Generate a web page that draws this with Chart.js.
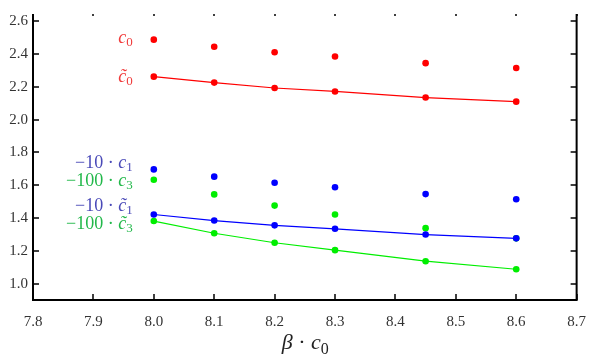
<!DOCTYPE html>
<html>
<head>
<meta charset="utf-8">
<script src="https://cdn.jsdelivr.net/npm/chart.js@4/dist/chart.umd.min.js"></script>
<style>
html,body{margin:0;padding:0;background:#fff;}
#wrap{width:599px;height:357px;position:relative;}
</style>
</head>
<body>
<div id="wrap"><canvas id="c" width="599" height="357"></canvas></div>
<script>
const xValues = [8.0, 8.1, 8.2, 8.3, 8.45, 8.6];
const c0 = [2.486, 2.443, 2.409, 2.384, 2.343, 2.314];
const c0Tilde = [2.261, 2.225, 2.192, 2.171, 2.134, 2.109];
const c1 = [1.697, 1.653, 1.616, 1.589, 1.547, 1.516];
const c1Tilde = [1.423, 1.386, 1.357, 1.336, 1.301, 1.278];
const c3 = [1.634, 1.545, 1.477, 1.423, 1.340, 1.278];
const c3Tilde = [1.383, 1.309, 1.251, 1.206, 1.139, 1.090];
const xTicks = [7.8, 7.9, 8.0, 8.1, 8.2, 8.3, 8.4, 8.5, 8.6, 8.7];
const yTicks = [1.0, 1.2, 1.4, 1.6, 1.8, 2.0, 2.2, 2.4, 2.6];

const pts = arr => arr.map((v, i) => ({x: xValues[i], y: v}));

function ds(label, data, color, line) {
  return {
    label, data: pts(data), showLine: line,
    borderColor: color, backgroundColor: color,
    pointRadius: 3.3, pointHoverRadius: 3.3, pointBorderWidth: 0,
    borderWidth: 1.2, tension: 0
  };
}

const serif = '"Liberation Serif", "DejaVu Serif", serif';

const labels = [
  {x: 7.965, y: 2.497, color: '#f03a3a', parts: [['c','i'],['0','s']]},
  {x: 7.965, y: 2.262, color: '#f03a3a', parts: [['c\u0303','i'],['0','s']]},
  {x: 7.965, y: 1.737, color: '#4a4ab8', parts: [['\u221210 \u00b7 ','n'],['c','i'],['1','s']]},
  {x: 7.965, y: 1.628, color: '#22b84a', parts: [['\u2212100 \u00b7 ','n'],['c','i'],['3','s']]},
  {x: 7.965, y: 1.477, color: '#4a4ab8', parts: [['\u221210 \u00b7 ','n'],['c\u0303','i'],['1','s']]},
  {x: 7.965, y: 1.367, color: '#22b84a', parts: [['\u2212100 \u00b7 ','n'],['c\u0303','i'],['3','s']]}
];

function fontFor(kind, size) {
  if (kind === 'i') return 'italic ' + size + 'px ' + serif;
  if (kind === 's') return Math.round(size * 0.72) + 'px ' + serif;
  return size + 'px ' + serif;
}

function drawParts(ctx, parts, xRight, yMid, size, color) {
  let total = 0;
  const widths = parts.map(p => { ctx.font = fontFor(p[1], size); const w = ctx.measureText(p[0]).width; total += w; return w; });
  let x = xRight - total;
  ctx.fillStyle = color;
  ctx.textBaseline = 'alphabetic';
  ctx.textAlign = 'left';
  const base = yMid + size * 0.28;
  parts.forEach((p, i) => {
    ctx.font = fontFor(p[1], size);
    ctx.fillText(p[0], x, p[1] === 's' ? base + size * 0.2 : base);
    x += widths[i];
  });
}

const framePlugin = {
  id: 'frame',
  afterDraw(chart) {
    const {ctx, chartArea: a, scales} = chart;
    const xs = scales.x, ys = scales.y;
    ctx.save();
    ctx.strokeStyle = '#000';
    ctx.lineWidth = 2;
    ctx.beginPath();
    ctx.moveTo(a.left, a.top); ctx.lineTo(a.left, a.bottom); ctx.lineTo(a.right, a.bottom); ctx.lineTo(a.right, a.top);
    ctx.stroke();
    ctx.lineWidth = 1.5;
    ctx.beginPath();
    xTicks.forEach(v => {
      const px = Math.round(xs.getPixelForValue(v));
      ctx.moveTo(px, a.bottom); ctx.lineTo(px, a.bottom - 6);
      ctx.moveTo(px, a.top); ctx.lineTo(px, a.top + 2);
    });
    yTicks.forEach(v => {
      const py = Math.round(ys.getPixelForValue(v));
      ctx.moveTo(a.left, py); ctx.lineTo(a.left + 6, py);
      ctx.moveTo(a.right, py); ctx.lineTo(a.right - 6, py);
    });
    ctx.stroke();
    labels.forEach(l => {
      drawParts(ctx, l.parts, xs.getPixelForValue(l.x), ys.getPixelForValue(l.y), 18, l.color);
    });
    drawParts(ctx, [['\u03b2','i'],[' \u00b7 ','n'],['c','i'],['0','s']], (a.left + a.right) / 2 + 24, 343, 22, '#222');
    ctx.restore();
  }
};

new Chart(document.getElementById('c'), {
  type: 'scatter',
  data: {
    datasets: [
      ds('c0', c0, '#ff0000', false),
      ds('c0~', c0Tilde, '#ff0000', true),
      ds('c1', c1, '#0000ff', false),
      ds('c1~', c1Tilde, '#0000ff', true),
      ds('c3', c3, '#00ee00', false),
      ds('c3~', c3Tilde, '#00ee00', true)
    ]
  },
  options: {
    responsive: false,
    animation: false,
    events: [],
    layout: {padding: {left: 0, right: 12, top: 0, bottom: 0}},
    plugins: {legend: {display: false}, tooltip: {enabled: false}},
    scales: {
      x: {
        type: 'linear', min: 7.8, max: 8.7,
        border: {display: false},
        grid: {display: false, drawTicks: false},
        afterBuildTicks(s) { s.ticks = xTicks.map(v => ({value: v})); },
        afterFit(s) { s.height = 57; },
        ticks: {
          padding: 13, color: '#333', maxRotation: 0,
          font: {family: serif, size: 15},
          callback: v => Number(v).toFixed(1)
        }
      },
      y: {
        type: 'linear', min: 0.903, max: 2.642,
        border: {display: false},
        grid: {display: false, drawTicks: false},
        afterBuildTicks(s) { s.ticks = yTicks.map(v => ({value: v})); },
        afterFit(s) { s.width = 33; },
        ticks: {
          padding: 5, color: '#333',
          font: {family: serif, size: 15},
          callback: v => Number(v).toFixed(1)
        }
      }
    }
  },
  plugins: [framePlugin]
});
</script>
</body>
</html>
